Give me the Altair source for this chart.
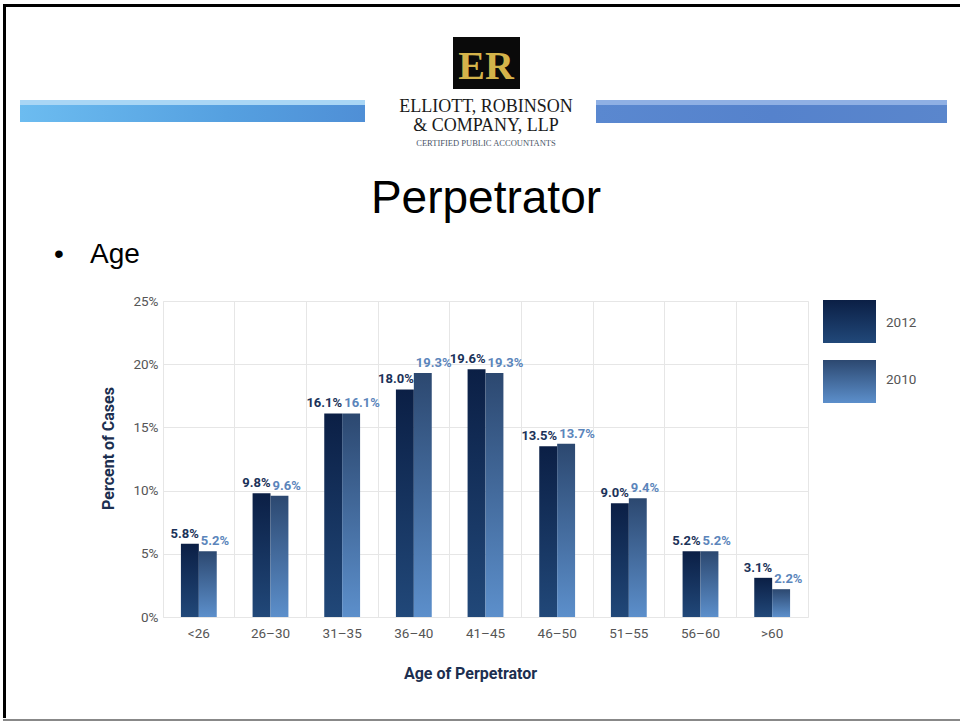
import altair as alt
import pandas as pd

ages = ["<26", "26–30", "31–35", "36–40", "41–45", "46–50", "51–55", "56–60", ">60"]
pct_2012 = [5.8, 9.8, 16.1, 18.0, 19.6, 13.5, 9.0, 5.2, 3.1]
pct_2010 = [5.2, 9.6, 16.1, 19.3, 19.3, 13.7, 9.4, 5.2, 2.2]
years = ["2012", "2010"]
y_ticks = [0, 5, 10, 15, 20, 25]

rows = []
for a, v in zip(ages, pct_2012):
    rows.append({"age": a, "year": "2012", "value": v})
for a, v in zip(ages, pct_2010):
    rows.append({"age": a, "year": "2010", "value": v})
df = pd.DataFrame(rows)
one = pd.DataFrame({"k": [0]})

FONT = "Roboto"
DARK_TXT = "#1b3259"
LIGHT_TXT = "#5b85bb"


def vgrad(top, bottom):
    return alt.LinearGradient(
        gradient="linear", x1=0, y1=0, x2=0, y2=1,
        stops=[alt.GradientStop(color=top, offset=0), alt.GradientStop(color=bottom, offset=1)],
    )


def hgrad(stops):
    return alt.LinearGradient(
        gradient="linear", x1=0, y1=0, x2=1, y2=0,
        stops=[alt.GradientStop(color=c, offset=o) for o, c in stops],
    )


dark_fill = vgrad("#0b1f45", "#214879")
light_fill = vgrad("#2c4870", "#5c8fcb")

xenc = alt.X(
    "age:N", sort=ages,
    scale=alt.Scale(paddingInner=0, paddingOuter=0),
    axis=alt.Axis(
        title="Age of Perpetrator", grid=True, bandPosition=0, ticks=False, domain=False,
        labelAngle=0, labelColor="#555555", labelFontSize=13.5, labelFont=FONT, labelPadding=9,
        titleFont=FONT, titleFontSize=16, titleFontWeight="bold", titleColor="#1c2f50",
        titleX=307, titleY=56, titleAlign="center", titleBaseline="middle",
        gridColor="#e6e6e6",
    ),
)
yenc = alt.Y(
    "value:Q",
    scale=alt.Scale(domain=[0, 25], nice=False),
    axis=alt.Axis(
        title="Percent of Cases", values=y_ticks, labelExpr="datum.value + '%'",
        ticks=False, domain=False, labelColor="#555555", labelFontSize=13.5, labelFont=FONT,
        labelPadding=5, titleFont=FONT, titleFontSize=16, titleFontWeight="bold",
        titleColor="#1c2f50", titleX=-55, titleY=147, titleAlign="center",
        titleBaseline="middle", gridColor="#e6e6e6",
    ),
)
xoff = alt.XOffset("year:N", scale=alt.Scale(domain=years, paddingOuter=1, paddingInner=0))

base = alt.Chart(df).transform_calculate(label="format(datum.value, '.1f') + '%'")

bars12 = base.transform_filter("datum.year == '2012'").mark_bar(color=dark_fill).encode(
    x=xenc, y=yenc, xOffset=xoff)
bars10 = base.transform_filter("datum.year == '2010'").mark_bar(color=light_fill).encode(
    x=xenc, y=yenc, xOffset=xoff)

txt12 = base.transform_filter("datum.year == '2012'").mark_text(
    align="right", baseline="bottom", dx=0, dy=-3, font=FONT, fontSize=13,
    fontWeight="bold", color=DARK_TXT).encode(x=alt.X("age:N", sort=ages), y="value:Q", text="label:N")
txt10 = base.transform_filter("datum.year == '2010'").mark_text(
    align="left", baseline="bottom", dx=2, dy=-3, font=FONT, fontSize=13,
    fontWeight="bold", color=LIGHT_TXT).encode(x=alt.X("age:N", sort=ages), y="value:Q", text="label:N")


def rect(x, x2, y, y2, fill):
    return alt.Chart(one).mark_rect(color=fill).encode(
        x=alt.value(x), x2=alt.value(x2), y=alt.value(y), y2=alt.value(y2))


def text(t, x, y, size, color="#000000", font="Liberation Sans", weight="normal",
         align="center", baseline="alphabetic"):
    return alt.Chart(one).mark_text(
        text=t, fontSize=size, color=color, font=font, fontWeight=weight,
        align=align, baseline=baseline).encode(x=alt.value(x), y=alt.value(y))


# legend
leg = [
    rect(660, 713, -1, 42, dark_fill),
    rect(660, 713, 59, 102, light_fill),
    text("2012", 723, 22, 13.5, "#555555", FONT, align="left", baseline="middle"),
    text("2010", 723, 79, 13.5, "#555555", FONT, align="left", baseline="middle"),
]

# slide decorations
left_bar = hgrad([(0, "#6cbcf0"), (0.6, "#55a0e0"), (1, "#4f8fd6")])
right_bar = hgrad([(0, "#5a88d0"), (0.5, "#5582cc"), (1, "#5a86cc")])
deco = [
    rect(-160, -157, -297, 417, "#000000"),
    rect(-160, 797, -297, -294, "#000000"),
    rect(-160, 797, 418, 420, "#888888"),
    rect(-143, 202, -201, -179, left_bar),
    rect(-143, 202, -201, -196, "#a9d6f5"),
    rect(433, 784, -201, -178, right_bar),
    rect(433, 784, -201, -196, "#8fb0e4"),
    rect(290, 357, -264, -212, "#0a0a0a"),
    text("ER", 323, -222, 40, "#d4b34a", "Liberation Serif", "bold"),
    text("ELLIOTT, ROBINSON", 323, -189, 18, "#1a1a1a", "Liberation Serif"),
    text("& COMPANY, LLP", 323, -170, 18, "#1a1a1a", "Liberation Serif"),
    text("CERTIFIED PUBLIC ACCOUNTANTS", 323, -155, 8.5, "#4a5568", "Liberation Serif"),
    text("Perpetrator", 323, -88, 46),
    text("•", -104, -38, 28),
    text("Age", -73, -38, 28, align="left"),
]

chart = alt.layer(bars12, bars10, txt12, txt10, *leg, *deco).properties(
    width=645, height=316,
    autosize=alt.AutoSizeParams(type="none"),
    padding={"left": 163, "top": 301, "right": 152, "bottom": 104},
    background="white",
).configure_view(stroke="#e6e6e6")

chart.save("out.html", embed_options={"renderer": "svg", "actions": False})
